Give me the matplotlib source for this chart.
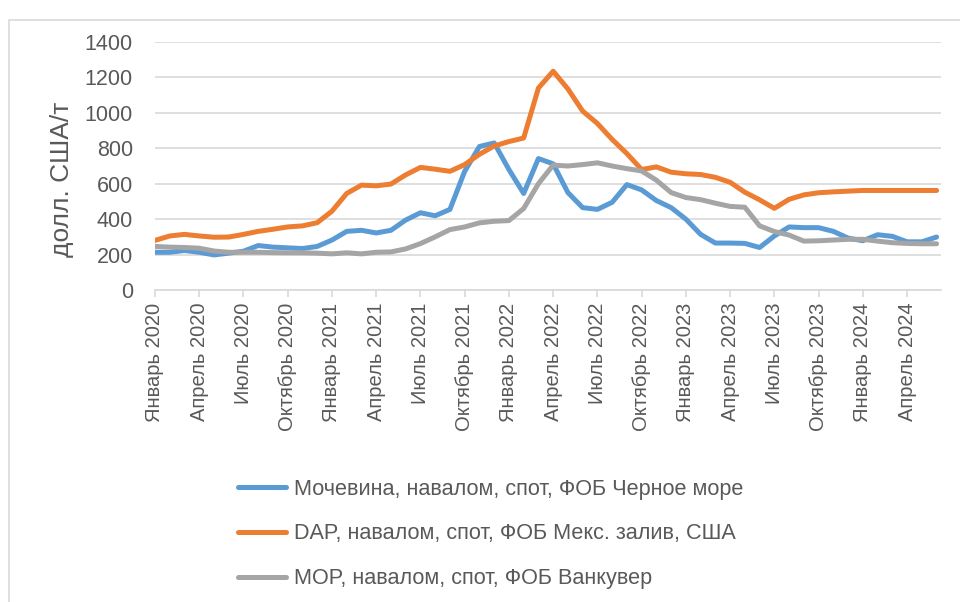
import matplotlib
matplotlib.use("Agg")
import matplotlib.pyplot as plt
from matplotlib.patches import Rectangle
import numpy as np

# monthly prices, Jan 2020 .. Jun 2024 (USD/t)
urea = [213, 213, 223, 213, 198, 208, 219, 251, 242, 238, 234, 246,
        282, 331, 337, 322, 337, 395, 436, 419, 455, 670, 810, 830,
        680, 545, 742, 712, 550, 465, 455, 495, 595, 565, 505, 465,
        400, 314, 265, 265, 263, 240, 305, 356, 352, 352, 331, 293,
        278, 312, 303, 272, 272, 299]
dap = [280, 305, 314, 305, 298, 299, 314, 331, 343, 356, 362, 380,
       445, 545, 592, 588, 598, 650, 692, 682, 670, 708, 766, 813,
       838, 858, 1140, 1235, 1135, 1010, 940, 850, 770, 680, 695, 665,
       656, 652, 636, 608, 552, 509, 461, 512, 537, 549, 554, 558,
       562, 562, 562, 562, 562, 562]
mop = [246, 242, 240, 236, 220, 213, 213, 213, 211, 210, 210, 208,
       204, 210, 204, 213, 215, 232, 262, 300, 341, 356, 379, 388,
       392, 460, 600, 705, 700, 708, 718, 700, 685, 672, 620, 550,
       522, 510, 490, 472, 467, 362, 330, 310, 276, 278, 282, 286,
       286, 276, 267, 263, 261, 261]

months = ["Январь", "Апрель", "Июль", "Октябрь"]
years = [2020, 2021, 2022, 2023, 2024]
tick_labels = [f"{m} {y}" for y in years for m in months][:18]

series = [
    (urea, "Мочевина, навалом, спот, ФОБ Черное море", "#5b9bd5"),
    (dap, "DAP, навалом, спот, ФОБ Мекс. залив, США", "#ed7d31"),
    (mop, "MOP, навалом, спот, ФОБ Ванкувер", "#a5a5a5"),
]

fig = plt.figure(figsize=(9.6, 6.02), dpi=100)
ax = fig.add_axes([155 / 960, 1 - 290 / 602, (941 - 155) / 960, (290 - 42) / 602])

x = np.arange(len(urea))
for vals, label, color in series:
    ax.plot(x, vals, color=color, lw=3.6, label=label,
            solid_joinstyle="round", solid_capstyle="round")

ax.set_xlim(0, 53.3)
ax.set_ylim(0, 1400)
ax.set_yticks(range(0, 1401, 200))
ax.grid(axis="y", color="#d9d9d9", lw=1.2)
ax.set_axisbelow(True)
for s in ["top", "right", "left"]:
    ax.spines[s].set_visible(False)
ax.spines["bottom"].set_color("#d9d9d9")
ax.spines["bottom"].set_linewidth(1.2)

ax.set_xticks(np.arange(0, 52, 3))
ax.set_xticklabels(tick_labels, rotation=90, fontsize=14.5,
                   family="Liberation Sans", color="#595959")
ax.tick_params(axis="x", length=5, width=1.2, color="#d9d9d9", pad=4)
ax.tick_params(axis="y", length=0, pad=16, labelsize=15.5, labelcolor="#595959")
for t in ax.get_yticklabels():
    t.set_family("Liberation Sans")

fig.text(62 / 960, 1 - 179 / 602, "долл. США/т", rotation=90,
         ha="center", va="center", fontsize=19, color="#595959",
         family="Liberation Sans")

leg = fig.legend(loc="upper left", bbox_to_anchor=(229 / 960, 1 - 470 / 602),
                 frameon=False, handlelength=2.25, handletextpad=0.35,
                 labelspacing=1.1, borderaxespad=0,
                 prop={"family": "Liberation Sans", "size": 15.6})
for t in leg.get_texts():
    t.set_color("#595959")

fig.patches.append(Rectangle((9 / 960, -0.1), 1.2, 1.1 - 20 / 602,
                             transform=fig.transFigure, fill=False,
                             ec="#d9d9d9", lw=1.2))

fig.savefig("out.png", dpi=100)
